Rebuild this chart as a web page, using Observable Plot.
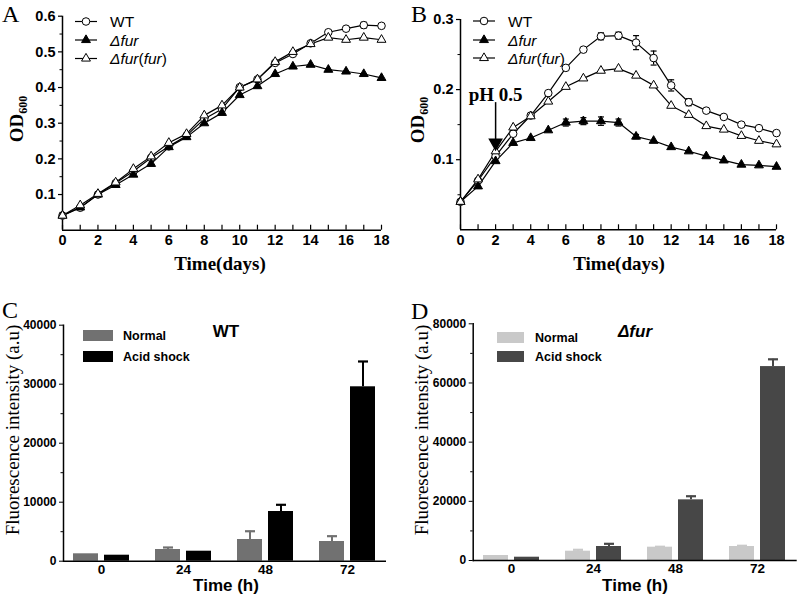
<!DOCTYPE html>
<html><head><meta charset="utf-8">
<script src="https://cdn.jsdelivr.net/npm/d3@7"></script>
<script src="https://cdn.jsdelivr.net/npm/@observablehq/plot@0.6"></script>
<style>
body{margin:0;background:#fff;}
#fig{position:relative;width:800px;height:598px;overflow:hidden;background:#fff;}
#fig > svg{position:absolute;}
</style></head><body><div id="fig"></div>
<script>
// ---------- data ----------
const days = [0,1,2,3,4,5,6,7,8,9,10,11,12,13,14,15,16,17,18];
const dayLabels = [0,2,4,6,8,10,12,14,16,18];
const seriesNames = ["WT","Δfur","Δfur(fur)"];

const aWT   = [0.041,0.063,0.100,0.132,0.165,0.203,0.235,0.265,0.312,0.340,0.401,0.423,0.469,0.494,0.524,0.555,0.565,0.575,0.573];
const aFur  = [0.041,0.064,0.100,0.127,0.156,0.186,0.233,0.261,0.300,0.329,0.379,0.404,0.438,0.459,0.464,0.450,0.445,0.438,0.427];
const aComp = [0.041,0.070,0.102,0.134,0.172,0.207,0.245,0.270,0.322,0.350,0.400,0.423,0.472,0.500,0.522,0.540,0.534,0.540,0.534];
const aWTErr   = [0,0,0,0,0,0,0,0,0,0,0,0,0,0,0,0,0.004,0.008,0.004];
const aFurErr  = [0,0,0,0,0,0,0,0,0,0,0,0,0,0,0,0,0,0,0];
const aCompErr = [0,0,0,0,0,0,0,0,0,0,0,0,0,0,0,0,0,0,0];

const bWT   = [0.040,0.070,0.105,0.137,0.163,0.195,0.231,0.257,0.276,0.277,0.267,0.245,0.206,0.182,0.170,0.161,0.150,0.145,0.138];
const bFur  = [0.040,0.062,0.098,0.124,0.131,0.142,0.153,0.155,0.155,0.153,0.133,0.127,0.118,0.112,0.105,0.099,0.093,0.092,0.090];
const bComp = [0.040,0.072,0.112,0.146,0.162,0.183,0.204,0.216,0.227,0.230,0.220,0.206,0.177,0.164,0.148,0.143,0.134,0.127,0.122];
const bWTErr   = [0.003,0,0,0,0,0,0,0,0.005,0.005,0.010,0.010,0.008,0.005,0,0,0,0,0];
const bFurErr  = [0,0,0,0,0,0,0.005,0.005,0.006,0.005,0.003,0,0,0,0,0,0,0,0];
const bCompErr = [0,0,0,0,0,0,0,0,0,0,0,0,0,0,0,0,0,0,0];

const arrowNote = [{x: 2, y1: 0.170, y2: 0.117, label: "pH 0.5"}];

const times = ["0","24","48","72"];
const cNormal = [1254, 1983, 3678, 3340];
const cNormalErr = [0, 340, 1400, 900];
const cAcid = [1017, 1695, 8424, 29560];
const cAcidErr = [0, 0, 1135, 4290];
const dNormal = [1690, 3140, 4500, 4730];
const dNormalErr = [0, 475, 150, 250];
const dAcid = [1115, 4730, 20500, 65540];
const dAcidErr = [0, 910, 1220, 2460];
const barSeries = ["Normal","Acid shock"];
const cTicks = [0,10000,20000,30000,40000];
const cMinor = [5000,15000,25000,35000];
const dTicks = [0,20000,40000,60000,80000];
const dMinor = [10000,30000,50000,70000];

// ---------- helpers ----------
const SANS = "Liberation Sans, Arial, sans-serif";
const SERIF = "Liberation Serif, Times New Roman, serif";
const cap = (hw) => ({draw(ctx){ ctx.moveTo(-hw,0); ctx.lineTo(hw,0); }});
const rows = (vals, errs) => days.map((d,i)=>({day:d, v: vals[i], e: errs[i]}));
const fig = document.getElementById("fig");

function place(svg, left, top){ svg.style.left = left+"px"; svg.style.top = top+"px"; fig.appendChild(svg); }

function lineChart({series, yDomain, yTicks, yMinor, margin, extra=[]}) {
  const marks = [];
  const syms = [
    {symbol:"circle", fill:"white", r:3.8},
    {symbol:"triangle", fill:"black", r:3.3},
    {symbol:"triangle", fill:"white", r:3.3}
  ];
  series.forEach((s,k)=>{
    marks.push(Plot.line(s, {x:"day", y:"v", stroke:"black", strokeWidth:1.2}));
  });
  series.forEach((s,k)=>{
    const err = s.filter(d=>d.e>0);
    marks.push(Plot.ruleX(err, {x:"day", y1:d=>d.v-d.e, y2:d=>d.v+d.e, stroke:"black", strokeWidth:1.2}));
    marks.push(Plot.dot(err, {x:"day", y:d=>d.v+d.e, symbol:cap(3), fill:"none", stroke:"black", strokeWidth:1.2}));
    marks.push(Plot.dot(err, {x:"day", y:d=>d.v-d.e, symbol:cap(3), fill:"none", stroke:"black", strokeWidth:1.2}));
  });
  series.forEach((s,k)=>{
    marks.push(Plot.dot(s, {x:"day", y:"v", symbol:syms[k].symbol, r:syms[k].r, fill:syms[k].fill, stroke:"black", strokeWidth:1}));
  });
  return Plot.plot({
    width: 400, height: 290,
    marginLeft: margin[0], marginRight: margin[1], marginTop: margin[2], marginBottom: margin[3],
    style: {fontFamily: SANS, fontSize: "14.5px", fontWeight: "bold", color: "black", background: "transparent"},
    x: {domain:[0,18], label:null},
    y: {domain:yDomain, label:null},
    marks: [
      Plot.axisY({ticks:yTicks, tickSize:4, tickPadding:3, tickFormat:d3.format(".1f"), label:null, strokeWidth:1.2}),
      Plot.axisY({ticks:yMinor, tickSize:2.5, tickFormat:()=>"", label:null}),
      Plot.axisX({ticks:dayLabels, tickSize:0, tickPadding:5, label:null}),
      Plot.axisX({ticks:days, tickSize:-5, tickFormat:()=>"", label:null, strokeWidth:1.2}),
      Plot.ruleX([0], {strokeWidth:1.5}),
      Plot.ruleY([0], {strokeWidth:1.5}),
      ...marks,
      ...extra
    ]
  });
}

function barChart({normal, normalErr, acid, acidErr, colors, yDomain, yTicks, yMinor, margin, inset}) {
  const nr = times.map((t,i)=>({t, v:normal[i], e:normalErr[i]}));
  const ar = times.map((t,i)=>({t, v:acid[i], e:acidErr[i]}));
  const errMarks = (data, color, dx) => {
    const d = data.filter(r=>r.e>0);
    return [
      Plot.ruleX(d, {x:"t", y1:"v", y2:r=>r.v+r.e, dx, stroke:color, strokeWidth:2}),
      Plot.dot(d, {x:"t", y:r=>r.v+r.e, dx, symbol:cap(5), fill:"none", stroke:color, strokeWidth:2.2})
    ];
  };
  return Plot.plot({
    width: 400, height: 308,
    marginLeft: margin[0], marginRight: margin[1], marginTop: margin[2], marginBottom: margin[3],
    style: {fontFamily: SANS, fontSize: "12px", fontWeight: "bold", color: "black", background: "transparent"},
    x: {type:"band", domain:times, paddingInner:0.313, paddingOuter:0, insetLeft:inset[0], insetRight:inset[1], label:null},
    y: {domain:yDomain, label:null},
    marks: [
      ...errMarks(nr, colors[0], -15.5),
      ...errMarks(ar, colors[1], 15.5),
      Plot.barY(nr, {x:"t", y:"v", fill:colors[0], insetRight:31}),
      Plot.barY(ar, {x:"t", y:"v", fill:colors[1], insetLeft:31}),
      Plot.axisY({ticks:yTicks, tickSize:4, tickPadding:3, tickFormat:d3.format("d"), label:null}),
      Plot.axisY({ticks:yMinor, tickSize:2.5, tickFormat:()=>"", label:null}),
      Plot.axisX({tickSize:0, tickPadding:3, fontSize:13.5, label:null}),
      Plot.frame({anchor:"left", strokeWidth:1.5}),
      Plot.ruleY([0], {strokeWidth:1.5})
    ]
  });
}

// ---------- panels ----------
const pA = lineChart({
  series:[rows(aWT,aWTErr), rows(aFur,aFurErr), rows(aComp,aCompErr)],
  yDomain:[0,0.6], yTicks:[0.1,0.2,0.3,0.4,0.5,0.6], yMinor:[0.05,0.15,0.25,0.35,0.45,0.55],
  margin:[62,19,15.7,60.3]
});
place(pA, 0, 0);

const pB = lineChart({
  series:[rows(bWT,bWTErr), rows(bFur,bFurErr), rows(bComp,bCompErr)],
  yDomain:[0,0.3], yTicks:[0.1,0.2,0.3], yMinor:[0.05,0.15,0.25],
  margin:[60,24,19,60.7],
  extra:[
    Plot.ruleX(arrowNote, {x:"x", y1:"y1", y2:"y2", dy:-8, stroke:"black", strokeWidth:1.5}),
    Plot.dot(arrowNote, {x:"x", y:"y2", symbol:"triangle", rotate:180, r:4.5, dy:-5, fill:"black", stroke:"black"}),
    Plot.text(arrowNote, {x:"x", y:"y1", text:"label", dy:-16, fontFamily:SERIF, fontSize:19, fontWeight:"bold"})
  ]
});
place(pB, 400, 0);

const pC = barChart({
  normal:cNormal, normalErr:cNormalErr, acid:cAcid, acidErr:cAcidErr,
  colors:["#717171","#000000"], yDomain:[0,40000], yTicks:cTicks, yMinor:cMinor,
  margin:[63,14,34.7,37.3], inset:[8,9]
});
place(pC, 0, 290);

const pD = barChart({
  normal:dNormal, normalErr:dNormalErr, acid:dAcid, acidErr:dAcidErr,
  colors:["#c9c9c9","#474747"], yDomain:[0,80000], yTicks:dTicks, yMinor:dMinor,
  margin:[72.7,3.3,33.3,38], inset:[8.3,9.7]
});
place(pD, 400, 290);

// ---------- overlay: panel letters, titles, legends ----------
const ov = d3.select(fig).append("svg").attr("width",800).attr("height",598)
  .style("left","0px").style("top","0px").style("pointer-events","none");

[["A",2,22],["B",411,22],["C",2,318],["D",411,319]].forEach(([t,x,y])=>{
  ov.append("text").attr("x",x).attr("y",y).attr("font-family",SERIF).attr("font-size",24).text(t);
});

// x titles
[["Time(days)",220,270],["Time(days)",619,270]].forEach(([t,x,y])=>{
  ov.append("text").attr("x",x).attr("y",y).attr("text-anchor","middle")
    .attr("font-family",SERIF).attr("font-weight","bold").attr("font-size",19).text(t);
});
[["Time (h)",226,591],["Time (h)",635,591]].forEach(([t,x,y])=>{
  ov.append("text").attr("x",x).attr("y",y).attr("text-anchor","middle")
    .attr("font-family",SANS).attr("font-weight","bold").attr("font-size",17).text(t);
});
// y titles
[[16,119],[417,120]].forEach(([x,y])=>{
  const t = ov.append("text").attr("transform",`translate(${x},${y}) rotate(-90)`).attr("text-anchor","middle")
    .attr("dy","0.35em").attr("font-family",SERIF).attr("font-weight","bold").attr("font-size",19);
  t.append("tspan").text("OD");
  t.append("tspan").attr("font-size",12).attr("dy",4).text("600");
});
[[12,430],[421,430]].forEach(([x,y])=>{
  ov.append("text").attr("transform",`translate(${x},${y}) rotate(-90)`).attr("text-anchor","middle")
    .attr("dy","0.35em").attr("font-family",SERIF).attr("font-size",19).text("Fluorescence intensity (a.u)");
});

// line legends
function lineLegend(x0, ys) {
  const symbols = [d3.symbolCircle, d3.symbolTriangle, d3.symbolTriangle];
  const fills = ["white","black","white"];
  const sizes = [Math.PI*14.4, Math.PI*10.9, Math.PI*10.9];
  seriesNames.forEach((name,i)=>{
    const y = ys[i];
    ov.append("line").attr("x1",x0).attr("x2",x0+22).attr("y1",y).attr("y2",y).attr("stroke","black").attr("stroke-width",1.2);
    ov.append("path").attr("d",d3.symbol(symbols[i], sizes[i])()).attr("transform",`translate(${x0+11},${y})`)
      .attr("fill",fills[i]).attr("stroke","black");
    const t = ov.append("text").attr("x",x0+35).attr("y",y+5.5).attr("font-family",SANS).attr("font-size",15.5);
    if (i===0) t.text(name);
    else if (i===1) t.append("tspan").attr("font-style","italic").text("Δfur");
    else { t.append("tspan").attr("font-style","italic").text("Δfur");
           t.append("tspan").text("(");
           t.append("tspan").attr("font-style","italic").text("fur");
           t.append("tspan").text(")"); }
  });
}
lineLegend(75, [21.5,40,58.5]);
lineLegend(473, [21,40,58]);

// bar legends
function barLegend(x0, w, colors, ys, tx) {
  barSeries.forEach((name,i)=>{
    ov.append("rect").attr("x",x0).attr("y",ys[i]).attr("width",w).attr("height",11).attr("fill",colors[i]);
    ov.append("text").attr("x",tx).attr("y",ys[i]+10).attr("font-family",SANS).attr("font-weight","bold")
      .attr("font-size",12.5).text(name);
  });
}
barLegend(83, 30, ["#717171","#000000"], [330,351], 123);
barLegend(497, 27, ["#c9c9c9","#474747"], [332,351], 535);

ov.append("text").attr("x",226).attr("y",337).attr("text-anchor","middle").attr("font-family",SANS)
  .attr("font-weight","bold").attr("font-size",17).text("WT");
ov.append("text").attr("x",635).attr("y",337).attr("text-anchor","middle").attr("font-family",SANS)
  .attr("font-weight","bold").attr("font-style","italic").attr("font-size",17).text("Δfur");
</script>
</body></html>
